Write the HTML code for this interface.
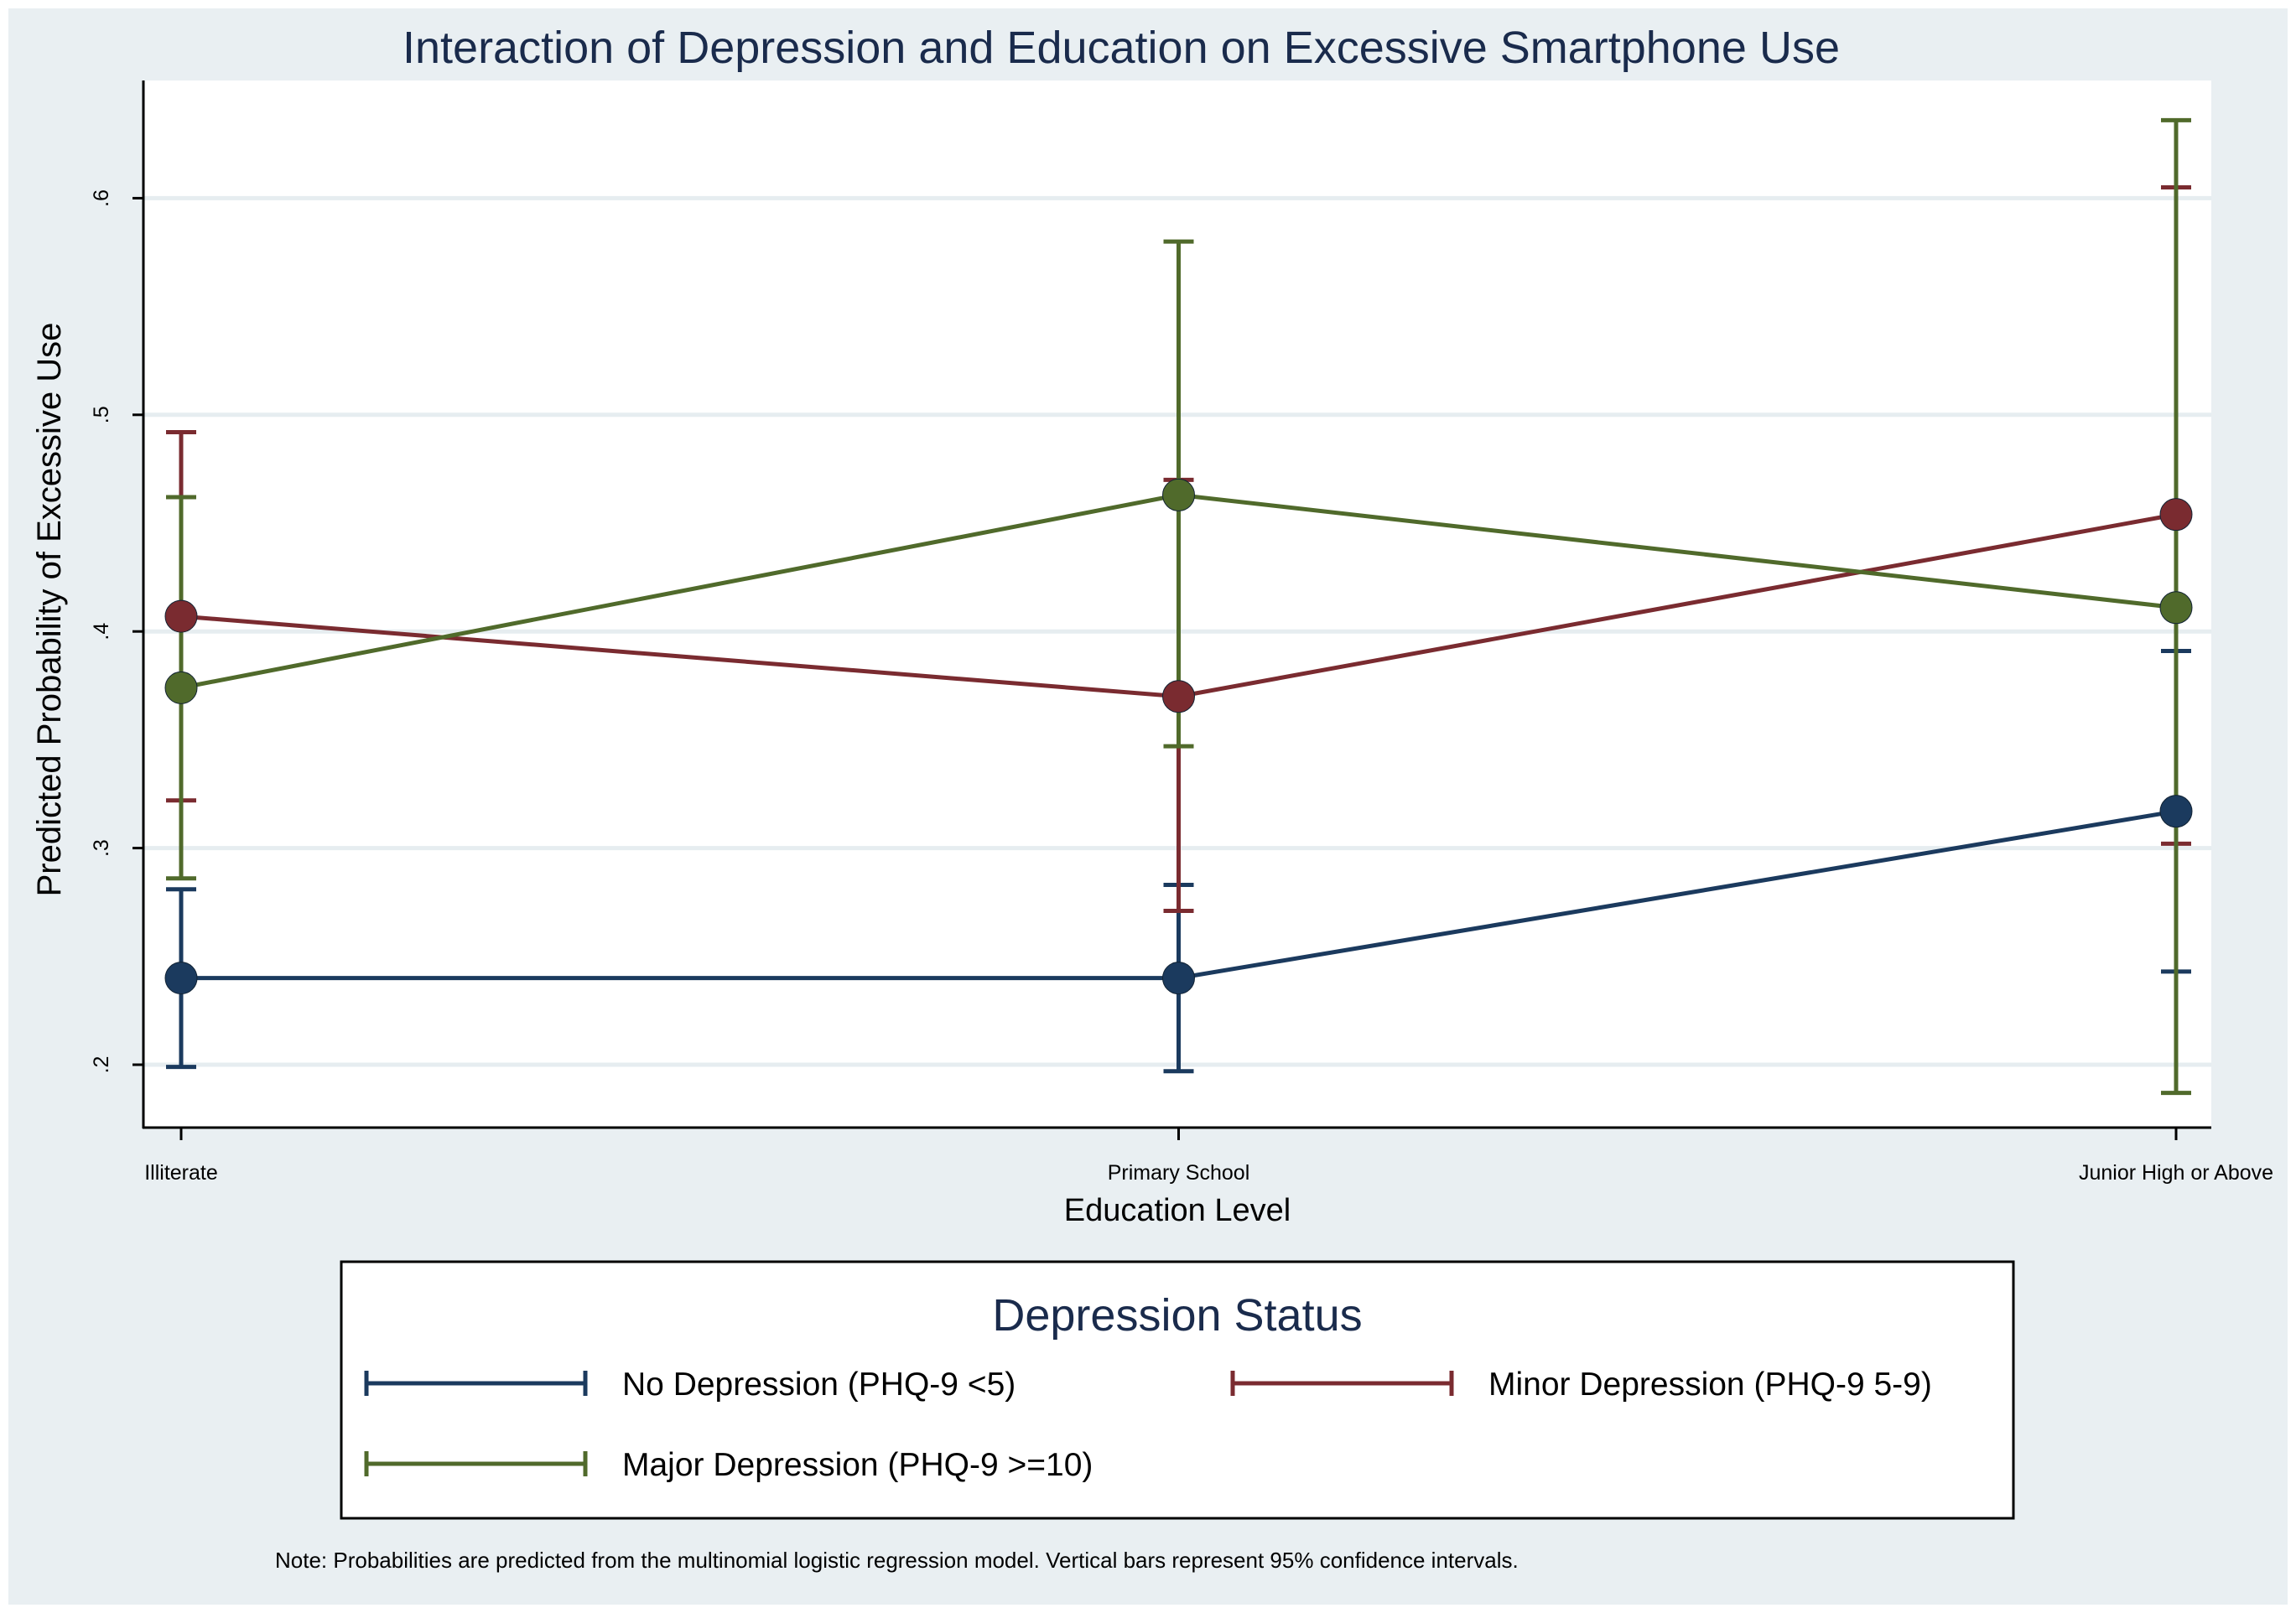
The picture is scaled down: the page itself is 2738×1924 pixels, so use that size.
<!DOCTYPE html>
<html><head><meta charset="utf-8"><style>
html,body{margin:0;padding:0;background:#fff;}
svg{display:block;font-family:"Liberation Sans",sans-serif;}
</style></head><body>
<svg id="chart" width="2738" height="1924" viewBox="0 0 2738 1924" xmlns="http://www.w3.org/2000/svg">
<rect x="10" y="10" width="2718" height="1904" fill="#e9eff2"/>
<rect x="171" y="96" width="2466" height="1249" fill="#ffffff"/>
<text x="1337" y="75" font-size="54" fill="#1a2b4c" text-anchor="middle">Interaction of Depression and Education on Excessive Smartphone Use</text>
<g id="grid"></g>
<g id="yticks"></g>
<g id="xticks"></g>
<g id="series"></g>
<line x1="171" y1="96" x2="171" y2="1346" stroke="#000" stroke-width="3"/>
<line x1="170" y1="1345" x2="2637" y2="1345" stroke="#000" stroke-width="3"/>
<text transform="translate(72,727) rotate(-90)" font-size="40" fill="#000" text-anchor="middle">Predicted Probability of Excessive Use</text>
<text x="1404" y="1456" font-size="38" fill="#000" text-anchor="middle">Education Level</text>
<g>
<rect x="407" y="1505" width="1994" height="306" fill="#fff" stroke="#000" stroke-width="3"/>
<text x="1404" y="1587" font-size="54" fill="#1a2b4c" text-anchor="middle">Depression Status</text>
<g id="legend-items"></g>
</g>
<text x="328" y="1870" font-size="26" fill="#000">Note: Probabilities are predicted from the multinomial logistic regression model. Vertical bars represent 95% confidence intervals.</text>
</svg>
<script>
const categories = ["Illiterate", "Primary School", "Junior High or Above"];
const yTicks = [0.2, 0.3, 0.4, 0.5, 0.6];
const yTickLabels = [".2", ".3", ".4", ".5", ".6"];
const seriesNames = ["No Depression (PHQ-9 <5)", "Minor Depression (PHQ-9 5-9)", "Major Depression (PHQ-9 >=10)"];
const noDepEst = [0.240, 0.240, 0.317];
const noDepLo = [0.199, 0.197, 0.243];
const noDepHi = [0.281, 0.283, 0.391];
const minorEst = [0.407, 0.370, 0.454];
const minorLo = [0.322, 0.271, 0.302];
const minorHi = [0.492, 0.470, 0.605];
const majorEst = [0.374, 0.463, 0.411];
const majorLo = [0.286, 0.347, 0.187];
const majorHi = [0.462, 0.580, 0.636];

const NS = "http://www.w3.org/2000/svg";
const colors = ["#1b3a5e", "#7a2b30", "#506a2b"];
function yS(v){ return 1270 - (v - 0.2) * 2584; }
function xS(i){ return 216 + i * (2595 - 216) / (categories.length - 1); }
function mk(tag, attrs, parent){ const e = document.createElementNS(NS, tag); for (const k in attrs) e.setAttribute(k, attrs[k]); parent.appendChild(e); return e; }

const grid = document.getElementById('grid'), yt = document.getElementById('yticks'), xt = document.getElementById('xticks');
yTicks.forEach((v, i) => {
  const g = mk('line', {x1:171, x2:2637, y1:yS(v), y2:yS(v), stroke:'#e6edf0', 'stroke-width':5}, grid);
  
  
  const t = mk('line', {x1:158, x2:171, y1:yS(v), y2:yS(v), stroke:'#000', 'stroke-width':3}, yt);
  
  
  const l = mk('text', {transform:`translate(129,${yS(v)}) rotate(-90)`, 'font-size':25, 'text-anchor':'middle'}, yt);
  
  
  l.textContent = yTickLabels[i];
});
categories.forEach((c, i) => {
  const t = mk('line', {x1:xS(i), x2:xS(i), y1:1345, y2:1360, stroke:'#000', 'stroke-width':3}, xt);
  
  
  const l = mk('text', {x:xS(i), y:1407, 'font-size':25, 'text-anchor':'middle'}, xt);
  
  
  l.textContent = c;
});

const ser = document.getElementById('series');
const all = [[noDepEst, noDepLo, noDepHi], [minorEst, minorLo, minorHi], [majorEst, majorLo, majorHi]];
const order = [0, 1, 2];
order.forEach(s => {
  const [est, lo, hi] = all[s];
  est.forEach((v, i) => {
    const x = xS(i);
    const v1 = mk('line', {x1:x, x2:x, y1:yS(lo[i]), y2:yS(hi[i]), stroke:colors[s], 'stroke-width':5}, ser);
    
    
    [lo[i], hi[i]].forEach(b => {
      const c = mk('line', {x1:x-18, x2:x+18, y1:yS(b), y2:yS(b), stroke:colors[s], 'stroke-width':5}, ser);
      
      
    });
  });
});
order.forEach(s => {
  const est = all[s][0];
  const p = mk('polyline', {points: est.map((v, i) => xS(i) + ',' + yS(v)).join(' '), fill:'none', stroke:colors[s], 'stroke-width':5}, ser);
  
  
  est.forEach((v, i) => {
    const c = mk('circle', {cx:xS(i), cy:yS(v), r:19, fill:colors[s], stroke:'#123', 'stroke-width':1}, ser);
    
    
  });
});

const li = document.getElementById('legend-items');
const lpos = [[437, 1650], [1470, 1650], [437, 1746]];
seriesNames.forEach((n, s) => {
  const [x, y] = lpos[s];
  const l = mk('line', {x1:x, x2:x+261, y1:y, y2:y, stroke:colors[s], 'stroke-width':5}, li);
  
  
  [x, x+261].forEach(cx => { mk('line', {x1:cx, x2:cx, y1:y-15, y2:y+15, stroke:colors[s], 'stroke-width':5}, li); });
  const t = mk('text', {x:x+305, y:y+14, 'font-size':39, fill:'#000'}, li);
  
  
  t.textContent = n;
});
</script>
</body></html>
